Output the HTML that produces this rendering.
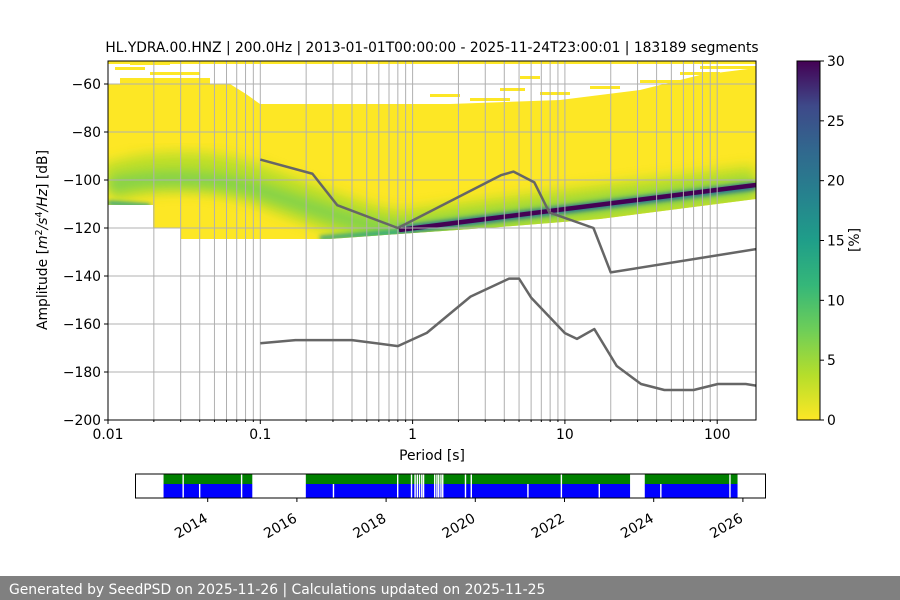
<!DOCTYPE html>
<html><head><meta charset="utf-8"><style>
body{margin:0;background:#fff;}
svg{display:block;font-family:"DejaVu Sans","Liberation Sans",sans-serif;}
</style></head><body>
<svg id="c" width="900" height="600" viewBox="0 0 900 600">
<defs>
<clipPath id="pc"><rect x="108" y="61" width="648" height="359"/></clipPath>
<clipPath id="yc"><polygon points="108,84 230,84 246,94 260,104 450,104 560,100 640,90 700,75 756,68 756,199 600,219 500,227 399,234 330,239 181,239 181,228 153,228 153,205 108,205"/></clipPath>
<linearGradient id="vir" x1="0" y1="1" x2="0" y2="0">
<stop offset="0" stop-color="#fde725"/><stop offset="0.125" stop-color="#b5de2b"/><stop offset="0.25" stop-color="#6ece58"/><stop offset="0.375" stop-color="#35b779"/><stop offset="0.5" stop-color="#1f9e89"/><stop offset="0.625" stop-color="#26828e"/><stop offset="0.75" stop-color="#31688e"/><stop offset="0.875" stop-color="#3e4989"/><stop offset="1" stop-color="#440154"/>
</linearGradient>
<filter id="bl" x="-10%" y="-50%" width="120%" height="200%"><feGaussianBlur stdDeviation="6"/></filter>
<filter id="bl2" x="-10%" y="-50%" width="120%" height="200%"><feGaussianBlur stdDeviation="2"/></filter>
</defs>
<g id="plot" clip-path="url(#pc)">
<g fill="#fde725">
<rect x="130" y="62" width="40" height="3"/><rect x="115" y="67" width="30" height="3"/><rect x="150" y="72" width="50" height="3"/><rect x="120" y="78" width="90" height="6"/>
<rect x="108" y="61" width="650" height="3"/><rect x="470" y="98" width="40" height="3"/><rect x="500" y="88" width="25" height="3"/>
<rect x="430" y="94" width="30" height="3"/><rect x="540" y="92" width="30" height="3"/><rect x="590" y="86" width="30" height="3"/>
<rect x="640" y="80" width="40" height="3"/><rect x="680" y="72" width="40" height="3"/><rect x="700" y="66" width="56" height="3"/>
<rect x="650" y="90" width="30" height="3"/><rect x="520" y="76" width="20" height="3"/>
</g>
<g clip-path="url(#yc)">
<rect x="108" y="61" width="648" height="180" fill="#fde725"/>
<path d="M108,184 C150,168 215,168 262,186 S360,225 399,230 L756,185" fill="none" stroke="#b5de2b" stroke-width="40" filter="url(#bl)" opacity="0.9"/>
<path d="M108,186 C150,175 215,176 262,191 S360,226 399,230 L756,186" fill="none" stroke="#6ece58" stroke-width="14" filter="url(#bl)" opacity="0.8"/>
<path d="M108,203 L150,206 M320,238 L399,232" fill="none" stroke="#1f9e89" stroke-width="4" filter="url(#bl2)"/>
<path d="M399,230 L756,186" fill="none" stroke="#2a788e" stroke-width="8" filter="url(#bl2)"/>
<path d="M399,230 L756,185" fill="none" stroke="#440154" stroke-width="4.5"/>
</g>
</g>
<g id="grid" stroke="#b0b0b0" stroke-width="1"></g>
<g id="models" clip-path="url(#pc)"></g>
<rect x="108" y="61" width="648" height="359" fill="none" stroke="#000" stroke-width="1"/>
<g id="axes" font-size="13.9" fill="#000"></g>
<text x="432" y="52" font-size="13.8" text-anchor="middle">HL.YDRA.00.HNZ | 200.0Hz | 2013-01-01T00:00:00 - 2025-11-24T23:00:01 | 183189 segments</text>
<text x="432" y="460" font-size="13.9" text-anchor="middle">Period [s]</text>
<text transform="translate(47,240) rotate(-90)" font-size="13.9" text-anchor="middle">Amplitude [<tspan font-style="italic">m</tspan><tspan font-size="9.5" dy="-5">2</tspan><tspan dy="5" font-style="italic">/s</tspan><tspan font-size="9.5" dy="-5">4</tspan><tspan dy="5" font-style="italic">/Hz</tspan>] [dB]</text>
<rect x="797" y="61" width="23" height="359" fill="url(#vir)" stroke="#000" stroke-width="1"/>
<g id="cbar" font-size="13.9"></g>
<text transform="translate(859,240) rotate(-90)" font-size="13.9" text-anchor="middle">[%]</text>
<g id="tl"></g>
<rect x="0" y="576" width="900" height="24" fill="#808080"/>
<text x="9" y="594" font-size="13.9" fill="#fff">Generated by SeedPSD on 2025-11-26 | Calculations updated on 2025-11-25</text>
</svg>
<script>
const NS="http://www.w3.org/2000/svg";
const yTicks=[-60,-80,-100,-120,-140,-160,-180,-200];
const xTickVals=[0.01,0.1,1,10,100];
const xTickLabels=["0.01","0.1","1","10","100"];
const cbarTicks=[0,5,10,15,20,25,30];
const nhnmPeriod=[0.1,0.22,0.32,0.8,3.8,4.6,6.3,7.9,15.4,20,180];
const nhnmDb=[-91.5,-97.4,-110.5,-120,-98,-96.5,-101,-113.5,-120,-138.5,-128.8];
const nlnmPeriod=[0.1,0.17,0.4,0.8,1.24,2.4,4.3,5,6,10,12,15.6,21.9,31.6,45,70,101,154,180];
const nlnmDb=[-168,-166.7,-166.7,-169.2,-163.7,-148.6,-141.1,-141.1,-149,-163.8,-166.2,-162.1,-177.5,-185,-187.5,-187.5,-185,-185,-185.7];
const segStart=[2013.01,2016.2,2023.8];
const segEnd=[2015.0,2023.47,2025.88];
const gapFull=[2013.45,2014.76,2018.26,2018.57,2018.65,2018.70,2018.75,2018.80,2018.84,2019.09,2019.14,2019.18,2019.23,2019.27,2019.78,2019.91,2021.93,2025.71];
const gapBlue=[2013.82,2016.82,2021.18,2022.78,2024.16];
const yearTicks=[2014,2016,2018,2020,2022,2024,2026];

const X=p=>108+152.3*(Math.log10(p)+2);
const Y=d=>420-(d+200)*2.4;
const T=yr=>207.7+(yr-2014)*44.6;
const CY=v=>420-v/30*359;
function mk(tag,at,parent){const e=document.createElementNS(NS,tag);for(const k in at)e.setAttribute(k,at[k]);parent.appendChild(e);return e;}
const grid=document.getElementById('grid'),axes=document.getElementById('axes');
yTicks.forEach(v=>{
 const l=mk('line',{x1:108,x2:756,y1:Y(v),y2:Y(v)},grid);
 
 
 mk('line',{x1:104,x2:108,y1:Y(v),y2:Y(v),stroke:'#000'},axes);
 const t=mk('text',{x:101,y:Y(v)+5,'text-anchor':'end'},axes);t.textContent='\u2212'+Math.abs(v);
 
 
});
for(let dec=-2;dec<=2;dec++)for(let m=1;m<10;m++){const p=m*Math.pow(10,dec);if(p>180)break;
 const l=mk('line',{x1:X(p),x2:X(p),y1:61,y2:420},grid);
 
 
 mk('line',{x1:X(p),x2:X(p),y1:420,y2:m==1?424:422,stroke:'#000'},axes);}
xTickVals.forEach((p,i)=>{const t=mk('text',{x:X(p),y:439,'text-anchor':'middle'},axes);t.textContent=xTickLabels[i];
 
 });
const models=document.getElementById('models');
function line(per,db,name){const pts=per.map((p,i)=>X(p)+','+Y(db[i])).join(' ');
 const e=mk('polyline',{points:pts,fill:'none',stroke:'#666','stroke-width':2.5,'stroke-linejoin':'round'},models);
 
 }
line(nhnmPeriod,nhnmDb,'nhnm-line');line(nlnmPeriod,nlnmDb,'nlnm-line');
const cb=document.getElementById('cbar');
cbarTicks.forEach(v=>{mk('line',{x1:820,x2:824,y1:CY(v),y2:CY(v),stroke:'#000'},cb);
 const t=mk('text',{x:827,y:CY(v)+5},cb);t.textContent=v;
 
 });
const tl=document.getElementById('tl');
segStart.forEach((s,i)=>{
 const g=mk('rect',{x:T(s),y:474,width:T(segEnd[i])-T(s),height:10,fill:'#008000'},tl);
 
 
 const b=mk('rect',{x:T(s),y:484,width:T(segEnd[i])-T(s),height:14,fill:'#0000ff'},tl);
 
 });
gapFull.forEach(g=>{mk('rect',{x:T(g)-0.7,y:474,width:1.4,height:24,fill:'#fff'},tl);});
gapBlue.forEach(g=>{mk('rect',{x:T(g)-0.7,y:484,width:1.4,height:14,fill:'#fff'},tl);});
mk('rect',{x:135.5,y:474,width:630,height:24,fill:'none',stroke:'#000'},tl);
yearTicks.forEach(yr=>{mk('line',{x1:T(yr),x2:T(yr),y1:498,y2:502,stroke:'#000'},tl);
 const t=mk('text',{transform:`translate(${T(yr)+1},${521}) rotate(-30)`,'text-anchor':'end','font-size':13.9},tl);t.textContent=yr;
 
 });
</script>
</body></html>
